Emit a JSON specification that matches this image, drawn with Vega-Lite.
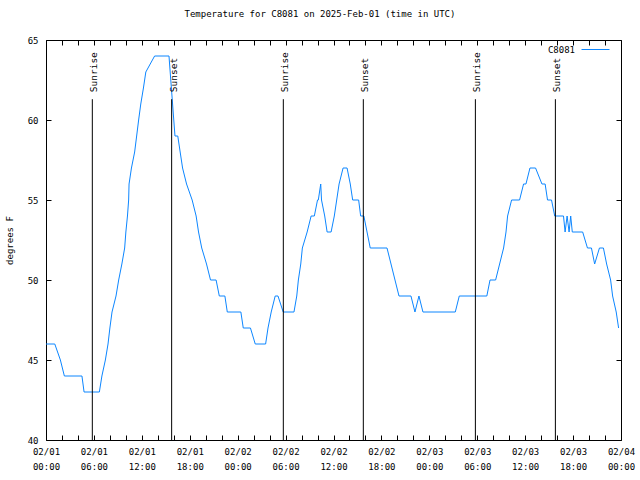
{
  "$schema": "https://vega.github.io/schema/vega-lite/v6.json",
  "width": 575,
  "height": 400,
  "autosize": {"type": "none"},
  "padding": {"left": 46, "top": 40, "right": 19, "bottom": 40},
  "background": "white",
  "config": {
    "view": {"stroke": "black", "strokeWidth": 1},
    "font": "DejaVu Sans Mono",
    "axis": {
      "labelFont": "DejaVu Sans Mono",
      "labelFontSize": 9,
      "labelColor": "black",
      "titleFont": "DejaVu Sans Mono",
      "titleFontSize": 9,
      "titleFontWeight": "normal",
      "titleColor": "black",
      "domain": false,
      "grid": false,
      "tickColor": "black",
      "tickSize": -5,
      "tickWidth": 1
    }
  },
  "title": {
    "text": "Temperature for C8081 on 2025-Feb-01 (time in UTC)",
    "font": "DejaVu Sans Mono",
    "fontSize": 9,
    "fontWeight": "normal",
    "color": "black",
    "anchor": "middle",
    "dx": -13.5,
    "offset": 16
  },
  "datasets": {
    "temps": [
      {"time": "2025-02-01T00:00:00Z", "temp": 46, "station": "C8081"},
      {"time": "2025-02-01T01:06:00Z", "temp": 46, "station": "C8081"},
      {"time": "2025-02-01T01:48:00Z", "temp": 45, "station": "C8081"},
      {"time": "2025-02-01T02:18:00Z", "temp": 44, "station": "C8081"},
      {"time": "2025-02-01T04:30:00Z", "temp": 44, "station": "C8081"},
      {"time": "2025-02-01T04:46:00Z", "temp": 43, "station": "C8081"},
      {"time": "2025-02-01T06:41:00Z", "temp": 43, "station": "C8081"},
      {"time": "2025-02-01T07:00:00Z", "temp": 44, "station": "C8081"},
      {"time": "2025-02-01T07:26:00Z", "temp": 45, "station": "C8081"},
      {"time": "2025-02-01T07:46:00Z", "temp": 46, "station": "C8081"},
      {"time": "2025-02-01T08:00:00Z", "temp": 47, "station": "C8081"},
      {"time": "2025-02-01T08:16:00Z", "temp": 48, "station": "C8081"},
      {"time": "2025-02-01T08:46:00Z", "temp": 49, "station": "C8081"},
      {"time": "2025-02-01T09:06:00Z", "temp": 50, "station": "C8081"},
      {"time": "2025-02-01T09:30:00Z", "temp": 51, "station": "C8081"},
      {"time": "2025-02-01T09:51:00Z", "temp": 52, "station": "C8081"},
      {"time": "2025-02-01T10:00:00Z", "temp": 53, "station": "C8081"},
      {"time": "2025-02-01T10:12:00Z", "temp": 54, "station": "C8081"},
      {"time": "2025-02-01T10:21:00Z", "temp": 55, "station": "C8081"},
      {"time": "2025-02-01T10:24:00Z", "temp": 56, "station": "C8081"},
      {"time": "2025-02-01T10:42:00Z", "temp": 57, "station": "C8081"},
      {"time": "2025-02-01T11:06:00Z", "temp": 58, "station": "C8081"},
      {"time": "2025-02-01T11:21:00Z", "temp": 59, "station": "C8081"},
      {"time": "2025-02-01T11:36:00Z", "temp": 60, "station": "C8081"},
      {"time": "2025-02-01T11:52:00Z", "temp": 61, "station": "C8081"},
      {"time": "2025-02-01T12:12:00Z", "temp": 62, "station": "C8081"},
      {"time": "2025-02-01T12:30:00Z", "temp": 63, "station": "C8081"},
      {"time": "2025-02-01T13:36:00Z", "temp": 64, "station": "C8081"},
      {"time": "2025-02-01T15:24:00Z", "temp": 64, "station": "C8081"},
      {"time": "2025-02-01T15:33:00Z", "temp": 63, "station": "C8081"},
      {"time": "2025-02-01T15:42:00Z", "temp": 62, "station": "C8081"},
      {"time": "2025-02-01T15:51:00Z", "temp": 61, "station": "C8081"},
      {"time": "2025-02-01T16:00:00Z", "temp": 60, "station": "C8081"},
      {"time": "2025-02-01T16:09:00Z", "temp": 59, "station": "C8081"},
      {"time": "2025-02-01T16:30:00Z", "temp": 59, "station": "C8081"},
      {"time": "2025-02-01T16:48:00Z", "temp": 58, "station": "C8081"},
      {"time": "2025-02-01T17:06:00Z", "temp": 57, "station": "C8081"},
      {"time": "2025-02-01T17:36:00Z", "temp": 56, "station": "C8081"},
      {"time": "2025-02-01T18:18:00Z", "temp": 55, "station": "C8081"},
      {"time": "2025-02-01T18:48:00Z", "temp": 54, "station": "C8081"},
      {"time": "2025-02-01T19:06:00Z", "temp": 53, "station": "C8081"},
      {"time": "2025-02-01T19:30:00Z", "temp": 52, "station": "C8081"},
      {"time": "2025-02-01T20:06:00Z", "temp": 51, "station": "C8081"},
      {"time": "2025-02-01T20:36:00Z", "temp": 50, "station": "C8081"},
      {"time": "2025-02-01T21:18:00Z", "temp": 50, "station": "C8081"},
      {"time": "2025-02-01T21:42:00Z", "temp": 49, "station": "C8081"},
      {"time": "2025-02-01T22:24:00Z", "temp": 49, "station": "C8081"},
      {"time": "2025-02-01T22:42:00Z", "temp": 48, "station": "C8081"},
      {"time": "2025-02-02T00:24:00Z", "temp": 48, "station": "C8081"},
      {"time": "2025-02-02T00:42:00Z", "temp": 47, "station": "C8081"},
      {"time": "2025-02-02T01:36:00Z", "temp": 47, "station": "C8081"},
      {"time": "2025-02-02T02:12:00Z", "temp": 46, "station": "C8081"},
      {"time": "2025-02-02T03:30:00Z", "temp": 46, "station": "C8081"},
      {"time": "2025-02-02T03:48:00Z", "temp": 47, "station": "C8081"},
      {"time": "2025-02-02T04:12:00Z", "temp": 48, "station": "C8081"},
      {"time": "2025-02-02T04:42:00Z", "temp": 49, "station": "C8081"},
      {"time": "2025-02-02T05:03:00Z", "temp": 49, "station": "C8081"},
      {"time": "2025-02-02T05:42:00Z", "temp": 48, "station": "C8081"},
      {"time": "2025-02-02T07:03:00Z", "temp": 48, "station": "C8081"},
      {"time": "2025-02-02T07:24:00Z", "temp": 49, "station": "C8081"},
      {"time": "2025-02-02T07:36:00Z", "temp": 50, "station": "C8081"},
      {"time": "2025-02-02T07:54:00Z", "temp": 51, "station": "C8081"},
      {"time": "2025-02-02T08:06:00Z", "temp": 52, "station": "C8081"},
      {"time": "2025-02-02T08:42:00Z", "temp": 53, "station": "C8081"},
      {"time": "2025-02-02T09:12:00Z", "temp": 54, "station": "C8081"},
      {"time": "2025-02-02T09:36:00Z", "temp": 54, "station": "C8081"},
      {"time": "2025-02-02T10:00:00Z", "temp": 55, "station": "C8081"},
      {"time": "2025-02-02T10:06:00Z", "temp": 55, "station": "C8081"},
      {"time": "2025-02-02T10:24:00Z", "temp": 56, "station": "C8081"},
      {"time": "2025-02-02T10:30:00Z", "temp": 55, "station": "C8081"},
      {"time": "2025-02-02T10:54:00Z", "temp": 54, "station": "C8081"},
      {"time": "2025-02-02T11:12:00Z", "temp": 53, "station": "C8081"},
      {"time": "2025-02-02T11:42:00Z", "temp": 53, "station": "C8081"},
      {"time": "2025-02-02T12:06:00Z", "temp": 54, "station": "C8081"},
      {"time": "2025-02-02T12:24:00Z", "temp": 55, "station": "C8081"},
      {"time": "2025-02-02T12:42:00Z", "temp": 56, "station": "C8081"},
      {"time": "2025-02-02T13:12:00Z", "temp": 57, "station": "C8081"},
      {"time": "2025-02-02T13:42:00Z", "temp": 57, "station": "C8081"},
      {"time": "2025-02-02T14:06:00Z", "temp": 56, "station": "C8081"},
      {"time": "2025-02-02T14:24:00Z", "temp": 55, "station": "C8081"},
      {"time": "2025-02-02T15:09:00Z", "temp": 55, "station": "C8081"},
      {"time": "2025-02-02T15:24:00Z", "temp": 54, "station": "C8081"},
      {"time": "2025-02-02T15:48:00Z", "temp": 54, "station": "C8081"},
      {"time": "2025-02-02T16:12:00Z", "temp": 53, "station": "C8081"},
      {"time": "2025-02-02T16:36:00Z", "temp": 52, "station": "C8081"},
      {"time": "2025-02-02T18:42:00Z", "temp": 52, "station": "C8081"},
      {"time": "2025-02-02T19:12:00Z", "temp": 51, "station": "C8081"},
      {"time": "2025-02-02T19:42:00Z", "temp": 50, "station": "C8081"},
      {"time": "2025-02-02T20:12:00Z", "temp": 49, "station": "C8081"},
      {"time": "2025-02-02T21:42:00Z", "temp": 49, "station": "C8081"},
      {"time": "2025-02-02T22:12:00Z", "temp": 48, "station": "C8081"},
      {"time": "2025-02-02T22:42:00Z", "temp": 49, "station": "C8081"},
      {"time": "2025-02-02T23:12:00Z", "temp": 48, "station": "C8081"},
      {"time": "2025-02-03T03:15:00Z", "temp": 48, "station": "C8081"},
      {"time": "2025-02-03T03:45:00Z", "temp": 49, "station": "C8081"},
      {"time": "2025-02-03T07:12:00Z", "temp": 49, "station": "C8081"},
      {"time": "2025-02-03T07:36:00Z", "temp": 50, "station": "C8081"},
      {"time": "2025-02-03T08:18:00Z", "temp": 50, "station": "C8081"},
      {"time": "2025-02-03T08:48:00Z", "temp": 51, "station": "C8081"},
      {"time": "2025-02-03T09:18:00Z", "temp": 52, "station": "C8081"},
      {"time": "2025-02-03T09:36:00Z", "temp": 53, "station": "C8081"},
      {"time": "2025-02-03T09:48:00Z", "temp": 54, "station": "C8081"},
      {"time": "2025-02-03T10:18:00Z", "temp": 55, "station": "C8081"},
      {"time": "2025-02-03T11:18:00Z", "temp": 55, "station": "C8081"},
      {"time": "2025-02-03T11:48:00Z", "temp": 56, "station": "C8081"},
      {"time": "2025-02-03T12:06:00Z", "temp": 56, "station": "C8081"},
      {"time": "2025-02-03T12:36:00Z", "temp": 57, "station": "C8081"},
      {"time": "2025-02-03T13:18:00Z", "temp": 57, "station": "C8081"},
      {"time": "2025-02-03T14:06:00Z", "temp": 56, "station": "C8081"},
      {"time": "2025-02-03T14:30:00Z", "temp": 56, "station": "C8081"},
      {"time": "2025-02-03T14:48:00Z", "temp": 55, "station": "C8081"},
      {"time": "2025-02-03T15:18:00Z", "temp": 55, "station": "C8081"},
      {"time": "2025-02-03T15:42:00Z", "temp": 54, "station": "C8081"},
      {"time": "2025-02-03T16:48:00Z", "temp": 54, "station": "C8081"},
      {"time": "2025-02-03T17:00:00Z", "temp": 53, "station": "C8081"},
      {"time": "2025-02-03T17:15:00Z", "temp": 54, "station": "C8081"},
      {"time": "2025-02-03T17:30:00Z", "temp": 53, "station": "C8081"},
      {"time": "2025-02-03T17:42:00Z", "temp": 54, "station": "C8081"},
      {"time": "2025-02-03T17:54:00Z", "temp": 53, "station": "C8081"},
      {"time": "2025-02-03T19:12:00Z", "temp": 53, "station": "C8081"},
      {"time": "2025-02-03T19:48:00Z", "temp": 52, "station": "C8081"},
      {"time": "2025-02-03T20:18:00Z", "temp": 52, "station": "C8081"},
      {"time": "2025-02-03T20:42:00Z", "temp": 51, "station": "C8081"},
      {"time": "2025-02-03T21:18:00Z", "temp": 52, "station": "C8081"},
      {"time": "2025-02-03T21:48:00Z", "temp": 52, "station": "C8081"},
      {"time": "2025-02-03T22:12:00Z", "temp": 51, "station": "C8081"},
      {"time": "2025-02-03T22:42:00Z", "temp": 50, "station": "C8081"},
      {"time": "2025-02-03T22:57:00Z", "temp": 49, "station": "C8081"},
      {"time": "2025-02-03T23:24:00Z", "temp": 48, "station": "C8081"},
      {"time": "2025-02-03T23:42:00Z", "temp": 47, "station": "C8081"}
    ],
    "sun": [
      {"time": "2025-02-01T05:48:00Z", "event": "Sunrise"},
      {"time": "2025-02-01T15:44:00Z", "event": "Sunset"},
      {"time": "2025-02-02T05:43:00Z", "event": "Sunrise"},
      {"time": "2025-02-02T15:44:00Z", "event": "Sunset"},
      {"time": "2025-02-03T05:46:00Z", "event": "Sunrise"},
      {"time": "2025-02-03T15:47:00Z", "event": "Sunset"}
    ]
  },
  "layer": [
    {
      "data": {"name": "temps"},
      "mark": {"type": "line", "strokeWidth": 1, "interpolate": "linear"},
      "encoding": {
        "x": {
          "field": "time",
          "type": "temporal",
          "scale": {"type": "utc", "domain": [{"year": 2025, "month": 2, "date": 1, "hours": 0, "utc": true}, {"year": 2025, "month": 2, "date": 4, "hours": 0, "utc": true}], "nice": false},
          "axis": {
            "orient": "bottom",
            "title": null,
            "values": [1738368000000, 1738375200000, 1738382400000, 1738389600000, 1738396800000, 1738404000000, 1738411200000, 1738418400000, 1738425600000, 1738432800000, 1738440000000, 1738447200000, 1738454400000, 1738461600000, 1738468800000, 1738476000000, 1738483200000, 1738490400000, 1738497600000, 1738504800000, 1738512000000, 1738519200000, 1738526400000, 1738533600000, 1738540800000, 1738548000000, 1738555200000, 1738562400000, 1738569600000, 1738576800000, 1738584000000, 1738591200000, 1738598400000, 1738605600000, 1738612800000, 1738620000000, 1738627200000],
            "labelExpr": "utchours(datum.value) % 6 == 0 ? [utcFormat(datum.value, '%m/%d'), utcFormat(datum.value, '%H:%M')] : ''",
            "labelOverlap": false,
            "labelFlush": false,
            "labelBound": false,
            "labelLineHeight": 15,
            "labelPadding": 12,
            "labelAlign": "center"
          }
        },
        "y": {
          "field": "temp",
          "type": "quantitative",
          "scale": {"domain": [40, 65], "nice": false, "zero": false},
          "axis": {
            "orient": "left",
            "title": "degrees F",
            "values": [40, 45, 50, 55, 60, 65],
            "labelPadding": 13,
            "titlePadding": 13
          }
        },
        "color": {
          "field": "station",
          "type": "nominal",
          "scale": {"range": ["#0c86ff"]},
          "legend": {
            "title": null,
            "orient": "none",
            "legendX": 535,
            "legendY": -5,
            "symbolType": "stroke",
            "symbolSize": 784,
            "symbolStrokeWidth": 1,
            "labelAlign": "right",
            "labelOffset": -35,
            "labelFont": "DejaVu Sans Mono",
            "labelFontSize": 9,
            "labelColor": "black"
          }
        }
      }
    },
    {
      "data": {"name": "sun"},
      "mark": {"type": "rule", "color": "black", "strokeWidth": 1},
      "encoding": {
        "x": {
          "field": "time",
          "type": "temporal",
          "axis": {
            "orient": "top",
            "title": null,
            "labels": false,
            "values": [1738368000000, 1738375200000, 1738382400000, 1738389600000, 1738396800000, 1738404000000, 1738411200000, 1738418400000, 1738425600000, 1738432800000, 1738440000000, 1738447200000, 1738454400000, 1738461600000, 1738468800000, 1738476000000, 1738483200000, 1738490400000, 1738497600000, 1738504800000, 1738512000000, 1738519200000, 1738526400000, 1738533600000, 1738540800000, 1738548000000, 1738555200000, 1738562400000, 1738569600000, 1738576800000, 1738584000000, 1738591200000, 1738598400000, 1738605600000, 1738612800000, 1738620000000, 1738627200000]
          }
        },
        "y": {
          "datum": 40,
          "type": "quantitative",
          "axis": {"orient": "right", "title": null, "labels": false, "values": [40, 45, 50, 55, 60, 65]}
        },
        "y2": {"datum": 61.3}
      }
    },
    {
      "data": {"name": "sun"},
      "mark": {
        "type": "text",
        "angle": 270,
        "align": "left",
        "baseline": "middle",
        "dx": 7,
        "dy": 2,
        "font": "DejaVu Sans Mono",
        "fontSize": 9.5,
        "color": "black"
      },
      "encoding": {
        "x": {"field": "time", "type": "temporal", "axis": null},
        "y": {"datum": 61.3, "type": "quantitative", "axis": null},
        "text": {"field": "event"}
      }
    }
  ],
  "resolve": {"axis": {"x": "independent", "y": "independent"}}
}
